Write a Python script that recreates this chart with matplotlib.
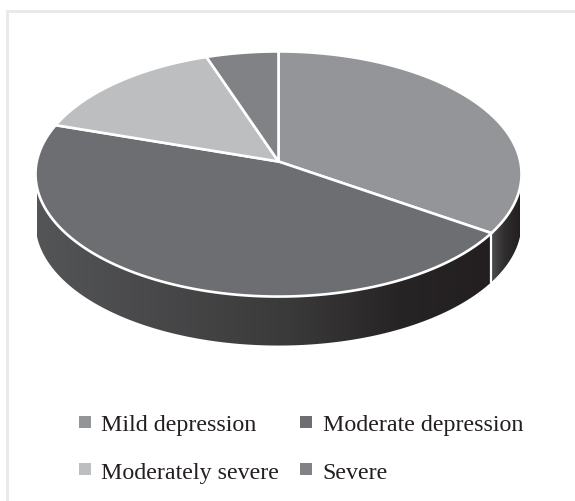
import numpy as np
import matplotlib
matplotlib.use("Agg")
import matplotlib.pyplot as plt
from matplotlib.colors import LinearSegmentedColormap
from matplotlib.lines import Line2D
from matplotlib.patches import Polygon

categories = ["Mild depression", "Moderate depression", "Moderately severe", "Severe"]
shares = [34.4, 45.6, 14.7, 5.3]
colors = ["#939598", "#6d6e71", "#bcbec0", "#808285"]

# the side wall shading runs left to right inside each slice
wall_shades = {
    0: ["#4e4e50", "#2e2c2d", "#231f20"],
    1: [(0, "#545557"), (0.55, "#3b3a3b"), (0.8, "#272425"), (1, "#231f20")],
}

# tilted disc: ellipse centre, half axes, apex offset and wall height in pixels
cx, cy = 278.5, 174.5
k = 0.102
rx = 243 * np.sqrt(1 - k**2)
ry = 122.5
apex = 12
depth = 49


def project(theta):
    # theta is clockwise from 12 o'clock, perspective pulls the apex above the centre
    u, v = np.sin(theta), np.cos(theta)
    w = 1 + k * v
    return cx + rx * u / w, cy - (ry * v + apex) / w


fig = plt.figure(figsize=(5.75, 5.02), dpi=100)
ax = fig.add_axes([0, 0, 1, 1])
ax.set_axis_off()

# frame is only drawn along the top and left
ax.plot([6.5, 6.5, 575], [502, 11.5, 11.5], color="#e8e8e8", lw=2, solid_joinstyle="miter")

edges = np.deg2rad(np.cumsum([0] + shares) * 3.6)

# only the front part of the rim shows a wall
rim_right = np.arccos(-0.2)
rim_left = 2 * np.pi - rim_right
for i, (a, b) in enumerate(zip(edges[:-1], edges[1:])):
    lo, hi = max(a, rim_right), min(b, rim_left)
    if lo >= hi:
        continue
    t = np.linspace(lo, hi, 200)
    x, y = project(t)
    outline = np.column_stack([np.r_[x, x[::-1]], np.r_[y, y[::-1] + depth]])
    wall = Polygon(outline, fc="none", ec="none")
    ax.add_patch(wall)
    cmap = LinearSegmentedColormap.from_list("wall", wall_shades[i])
    im = ax.imshow(np.linspace(0, 1, 256)[None, :], cmap=cmap, aspect="auto",
                   extent=(x.min(), x.max(), y.max() + depth, y.min()), zorder=1)
    im.set_clip_path(wall)

# white seam between the two walls
seam_x, seam_y = project(edges[1])
ax.plot([seam_x, seam_x], [seam_y, seam_y + depth], color="white", lw=1.6, zorder=2)

for color, a, b in zip(colors, edges[:-1], edges[1:]):
    x, y = project(np.linspace(a, b, 200))
    pts = np.column_stack([np.r_[cx, x], np.r_[cy - apex, y]])
    ax.add_patch(Polygon(pts, closed=True, fc=color, ec="white", lw=1.9, zorder=3, joinstyle="miter"))

ax.set_xlim(0, 575)
ax.set_ylim(502, 0)

# legend fills column by column
order = [0, 2, 1, 3]
handles = [Line2D([], [], ls="none", marker="s", ms=8, mew=0, color=colors[i]) for i in order]
ax.legend(handles, [categories[i] for i in order], ncol=2, frameon=False,
          loc="upper left", bbox_to_anchor=(0.1385, 0.174),
          prop={"family": "Liberation Serif", "size": 17.3},
          labelcolor="#231f20", handlelength=0.45, handletextpad=0.45,
          columnspacing=0.91, labelspacing=1.06, borderpad=0, borderaxespad=0)

fig.savefig("out.png", dpi=100, facecolor="white")
